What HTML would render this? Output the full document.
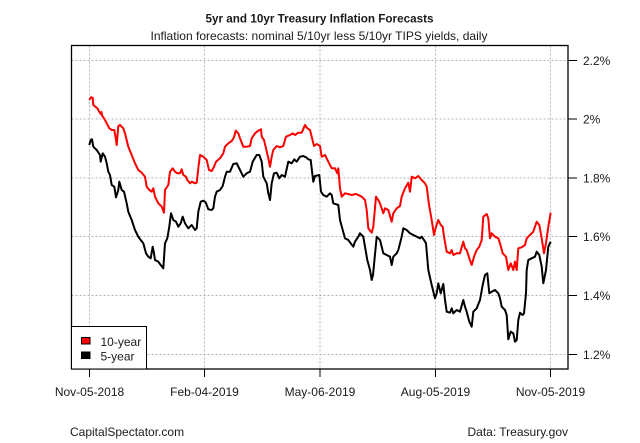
<!DOCTYPE html>
<html><head><meta charset="utf-8"><style>
html,body{margin:0;padding:0;background:#fff;}
svg{display:block;}
text{font-family:"Liberation Sans",Arial,sans-serif;fill:#1a1a1a;}
</style></head><body>
<svg width="640" height="443" viewBox="0 0 640 443" xmlns="http://www.w3.org/2000/svg">
<rect width="640" height="443" fill="#fff"/>
<text x="319.5" y="22.5" text-anchor="middle" font-size="12" font-weight="bold" textLength="228" lengthAdjust="spacingAndGlyphs">5yr and 10yr Treasury Inflation Forecasts</text>
<text x="319" y="40" text-anchor="middle" font-size="12" textLength="337" lengthAdjust="spacingAndGlyphs">Inflation forecasts: nominal 5/10yr less 5/10yr TIPS yields, daily</text>
<g stroke="#b4b4b4" stroke-width="1" stroke-dasharray="2,2" fill="none">
<line x1="89.5" y1="45.5" x2="89.5" y2="369"/>
<line x1="204.5" y1="45.5" x2="204.5" y2="369"/>
<line x1="320" y1="45.5" x2="320" y2="369"/>
<line x1="435.5" y1="45.5" x2="435.5" y2="369"/>
<line x1="550.5" y1="45.5" x2="550.5" y2="369"/>
<line x1="71.5" y1="60.5" x2="568" y2="60.5"/>
<line x1="71.5" y1="119" x2="568" y2="119"/>
<line x1="71.5" y1="178" x2="568" y2="178"/>
<line x1="71.5" y1="236.5" x2="568" y2="236.5"/>
<line x1="71.5" y1="295.5" x2="568" y2="295.5"/>
<line x1="71.5" y1="354.5" x2="568" y2="354.5"/>
</g>
<polyline fill="none" stroke="#ff0000" stroke-width="2" stroke-linejoin="round" points="89.3,100 91,97.3 92.7,97.7 93.3,105 97.3,108.3 99.3,111.7 100.7,114 101.5,112 102.2,116 103.3,117.3 105,120 106.7,123.3 109.3,128.3 111.7,130 114.3,130 116,140 116.7,145 118.3,126 120,125 123.3,128.3 125,133.3 128.3,146.7 131.7,155 135,163.3 138.3,170 141.7,172.7 145,176.7 146.7,186.7 149.3,190 151.7,191.7 153.3,188.3 155,196.7 158.3,203.3 161.7,206.7 164,212.7 165,190 168.3,185 170,171.7 172.7,168.3 175,171.7 177.3,173.3 180,173.3 181.7,169.3 183.3,175 186,176.7 187.3,180 190,183.3 191.7,181.7 195,183.3 196.7,182.7 198.3,168.3 200,155 203.3,156.7 206.7,160 209,170 211.7,171 214,166.7 216,161.7 220,158.3 223.3,153.3 225,146.7 228.3,143.3 231.7,141 234,137.3 235.7,130.7 238.3,133.3 240,138.3 243.3,146.7 246.7,146.7 250,146 251.7,138.3 255,133.3 258.3,130.7 261,129.3 261.7,136.7 264,140 266,148.3 268.3,158.3 270,166.7 271.7,156.7 273.3,150 276.7,146 280,147.3 283.3,146 286,136.7 290,135 292.7,133.3 295,135 298.3,132.7 301.7,132.7 305,125 307.3,128.3 310,130 311.7,136.7 314,146 316.7,144 320,146 321.7,156.7 325,155 328.3,161.7 331.7,168.3 335,168.3 337.3,173.3 338.3,168.3 340,188.3 341.7,196.7 345,193.3 348.3,194 351.7,195 356,194 358.3,195 361.7,196.7 365,200 366.7,210 368.3,228.3 371.7,232.7 373.3,226.7 376,196.7 379.3,201.7 381.7,208.3 383.3,213.3 385,208.3 388.3,210 391.7,221.7 393.3,213.3 396.7,208.3 400,206 401.7,196.7 405,188.3 408.3,182.7 410,191.7 411.7,176.7 415,178.3 418.3,176 421.7,180 425,183.3 426.7,186.7 429.3,206.7 431.7,220 434,235 436,226.7 438.3,220 440.7,225 442.7,226.7 444,236.7 446.7,251.7 450,253.3 451.7,250 453.3,255 456.7,253.3 460,253.3 463.3,241.7 465,248.3 466.7,250 469.3,258.3 471.7,265 474,256.7 476.7,250 479.3,246.7 481.7,240 483.3,216.7 486.7,214 488.3,218.3 490,238.3 491.7,233.3 495,236.7 498.3,238.3 500,243.3 502.7,253.3 506,256.7 508.3,270 510.7,263.3 513.3,270 515,261.7 516.7,270 518.3,248.3 521.7,247.3 525,245 526.7,238.3 530,235 533.3,231.7 536.7,221.7 539.3,225 541.7,238.3 544,253.3 546,243.3 548.3,226.7 550.7,212.7"/>
<polyline fill="none" stroke="#000" stroke-width="2" stroke-linejoin="round" points="89.3,145 90.7,140 92,139.3 93.3,146.7 96.7,150 100,155 100.7,161.7 102.7,153.3 105,156.7 106.7,163.3 108.3,171.7 110,175 111.7,185 114.3,186.7 116,197.3 118.3,190 119.3,181.7 121.7,190 124,191.7 126.7,203.3 128.3,211.7 131.7,220 135,230 138.3,236.7 140.7,240 143.3,243.3 146,253.3 148.3,256.7 150.7,258.3 152.7,246.7 154,253.3 155,260 158.3,261.7 160.7,265 163.3,268.3 165,243.3 167.3,238.3 169.3,226.7 171,213.3 173.3,220 176,221.7 178.3,226.7 180.7,223.3 182.7,216.7 185,223.3 188.3,228.3 191.7,225 195,230 196.7,228.3 198.3,211.7 200.7,201.7 203.3,200.7 205.7,202.3 208.3,209.3 211.7,210 213.3,208.3 215,196.7 216.7,191.7 220,190 222.7,186 225,176.7 226.7,171.7 230,171.7 233.3,164 236.7,163.3 240,170 243.3,176.7 246.7,173.3 250,171.7 252.7,161.7 256.7,155 259.3,155 261.7,161.7 263.3,176.7 266.7,183.3 268.3,193.3 270,200 271.7,183.3 274,173.3 276.7,172.7 279.3,178.3 281.7,175 285,176.7 288.3,161.7 291.7,163.3 294.3,159.3 296.7,161.7 300,156.7 303.3,156 306,157.3 308.3,159.3 310.7,160 313.3,181.7 315,176 319.3,175 321,191.7 323.3,195 326.7,196.7 330,193.3 331.7,195 333.3,203.3 338.3,205 340,220 342.7,230 345,238.3 348.3,240 350.7,243.3 353.3,246.7 355,241.7 358.3,236.7 360,233.3 363.3,236.7 365,246.7 367.3,260 370,270 371.7,280 373,275 376.7,236.7 380,240 381.7,246.7 383.3,253.3 386.7,255 390,256.7 391.7,265 393.3,256.7 396.7,253.3 398.3,250 401.7,236.7 403.3,228.3 406.7,230 410,233.3 413.3,235 416.7,236.7 420,238.3 421.7,236.7 424,240 426,243.3 428.3,270 431.7,285 435,298.3 436.7,293.3 438.3,283.3 440.7,293.3 443.3,284 445,300 446.7,311.7 450,312.7 451.7,308.3 453.3,313.3 456.7,310 460,311.7 463.3,300 465,306.7 466.7,311.7 469.3,321.7 471.7,326.7 473.3,311.7 476.7,308.3 480,300 482.7,285 485,275 487.3,273.3 489.3,293.3 491.7,291.7 495,290 498.3,293.3 500,298.3 501.7,306.7 505,310 506.7,315 508.3,339.3 510.7,331.7 513.3,333.3 515,341.7 516.7,340 518.3,320 520,312.7 522.7,315 524,313.3 526,293.3 526.7,270 528.3,260 531.7,258.3 535,256.7 536.7,251.7 539.3,255 541.7,266.7 543.3,283.3 546,270 548.3,246.7 550.7,241.7"/>
<rect x="71.5" y="45.5" width="496.5" height="323.5" fill="none" stroke="#000" stroke-width="1.3"/>
<g stroke="#000" stroke-width="1">
<line x1="568" y1="60.5" x2="577" y2="60.5"/>
<line x1="568" y1="119" x2="577" y2="119"/>
<line x1="568" y1="178" x2="577" y2="178"/>
<line x1="568" y1="236.5" x2="577" y2="236.5"/>
<line x1="568" y1="295.5" x2="577" y2="295.5"/>
<line x1="568" y1="354.5" x2="577" y2="354.5"/>
<line x1="89.5" y1="369" x2="89.5" y2="377"/>
<line x1="204.5" y1="369" x2="204.5" y2="377"/>
<line x1="320" y1="369" x2="320" y2="377"/>
<line x1="435.5" y1="369" x2="435.5" y2="377"/>
<line x1="550.5" y1="369" x2="550.5" y2="377"/>
</g>
<g font-size="12">
<text x="583" y="64.8">2.2%</text>
<text x="583" y="123.3">2%</text>
<text x="583" y="182.3">1.8%</text>
<text x="583" y="240.8">1.6%</text>
<text x="583" y="299.8">1.4%</text>
<text x="583" y="358.8">1.2%</text>
</g>
<g font-size="12" text-anchor="middle">
<text x="89.5" y="396">Nov-05-2018</text>
<text x="204.5" y="396">Feb-04-2019</text>
<text x="320" y="396">May-06-2019</text>
<text x="435.5" y="396">Aug-05-2019</text>
<text x="550.5" y="396">Nov-05-2019</text>
</g>
<rect x="71.5" y="326.5" width="75" height="42.5" fill="#fff" stroke="#000" stroke-width="1"/>
<rect x="81.5" y="337.5" width="8.5" height="6.5" fill="#ff0000" stroke="#000" stroke-width="1"/>
<rect x="81.5" y="352" width="8.5" height="6.5" fill="#000" stroke="#000" stroke-width="1"/>
<text x="100.5" y="346" font-size="12">10-year</text>
<text x="100.5" y="360.5" font-size="12">5-year</text>
<text x="70" y="436" font-size="12">CapitalSpectator.com</text>
<text x="568" y="436" font-size="12" text-anchor="end">Data: Treasury.gov</text>
</svg>
</body></html>
